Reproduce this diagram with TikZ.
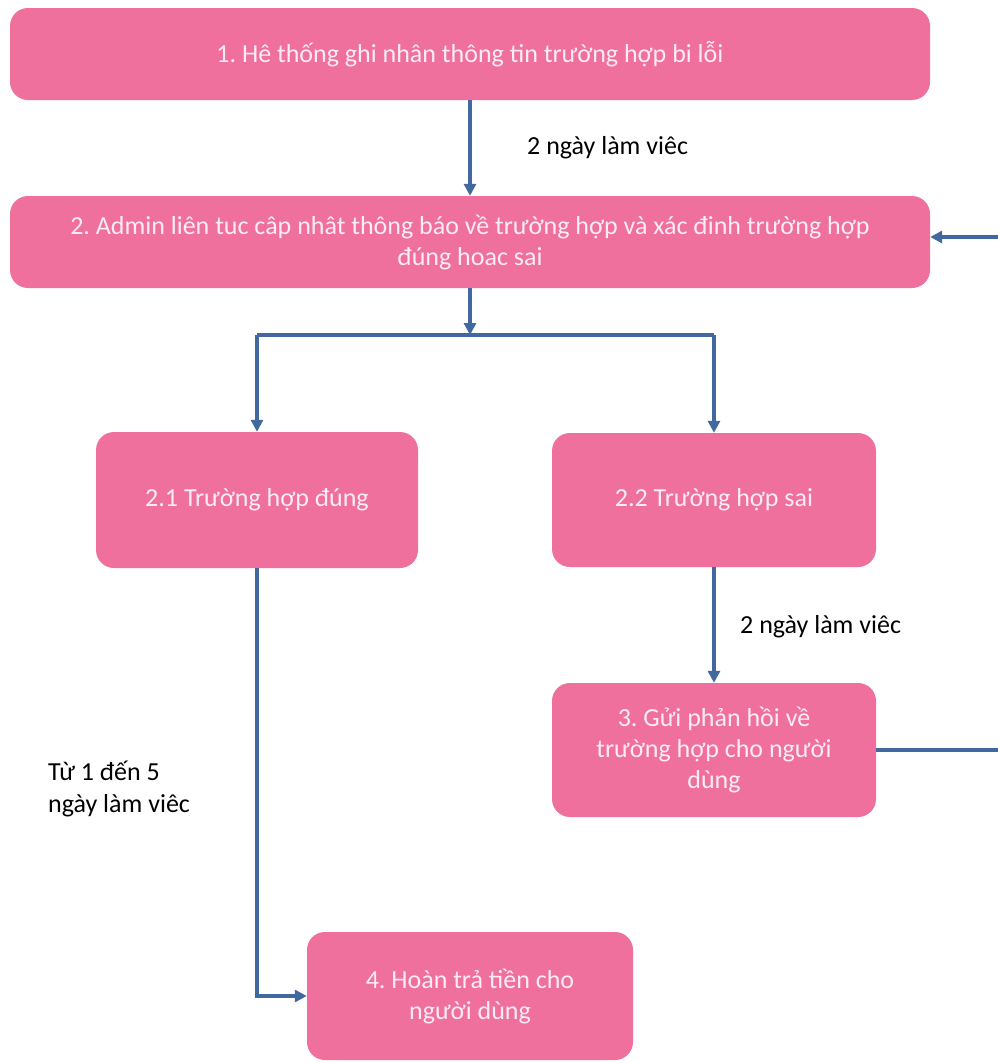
\documentclass[tikz,border=0pt]{standalone}
\usepackage{fontspec}
\setmainfont{Carlito}
\usetikzlibrary{arrows.meta}
\definecolor{boxpink}{RGB}{240,112,157}
\definecolor{arrblue}{RGB}{66,104,160}
\definecolor{boxtext}{RGB}{253,236,243}
\tikzset{
  box/.style={rectangle, rounded corners=18pt, fill=boxpink, draw=none,
    text=boxtext, align=center, inner sep=4pt,
    font=\frenchspacing\fontsize{26}{31}\selectfont},
  conn/.style={draw=arrblue, line width=3.5pt},
  arr/.style={conn, -{Triangle[length=12pt,width=12pt]}},
  lbl/.style={text=black, anchor=west, align=left, inner sep=0pt,
    font=\frenchspacing\fontsize{26}{32}\selectfont}
}
\begin{document}
\begin{tikzpicture}[x=1pt,y=-1pt]
\useasboundingbox (0,0) rectangle (998,1063);
\fill[white] (0,0) rectangle (998,1063);

\node[box, minimum width=920pt, minimum height=92pt] (b1) at (470,54)
  {1. Hê thống ghi nhân thông tin trường hợp bi lỗi};
\node[box, minimum width=920pt, minimum height=92pt] (b2) at (470,242)
  {2. Admin liên tuc câp nhât thông báo về trường hợp và xác đinh trường hợp\\ đúng hoac sai};
\node[box, minimum width=322pt, minimum height=136pt] (b21) at (257,500)
  {2.1 Trường hợp đúng};
\node[box, minimum width=324pt, minimum height=134pt] (b22) at (714,500)
  {2.2 Trường hợp sai};
\node[box, minimum width=324pt, minimum height=134pt] (b3) at (714,750)
  {3. Gửi phản hồi về\\ trường hợp cho người\\ dùng};
\node[box, minimum width=326pt, minimum height=128pt] (b4) at (470,996)
  {4. Hoàn trả tiền cho\\ người dùng};

\coordinate (j) at (470,335);
\coordinate (r1) at (1003,750);
\coordinate (r2) at (1003,237);

\draw[arr] (b1.south) -- (b2.north);
\draw[arr] (b2.south) -- (j);
\draw[conn] (b21.north |- j) -- (b22.north |- j);
\draw[arr] (b21.north |- j) -- (b21.north);
\draw[arr] (b22.north |- j) -- (b22.north);
\draw[arr] (b22.south) -- (b3.north);
\draw[arr] (b21.south) |- (b4.west);
\draw[conn] (b3.east) -- (r1);
\draw[arr] (r1) -- (r2) -- (b2.east |- r2);

\node[lbl] (l1) at (527,148) {2 ngày làm viêc};
\node[lbl] (l2) at (740,627) {2 ngày làm viêc};
\node[lbl] (l3) at (48,789) {Từ 1 đến 5\\ ngày làm viêc};
\end{tikzpicture}
\end{document}
